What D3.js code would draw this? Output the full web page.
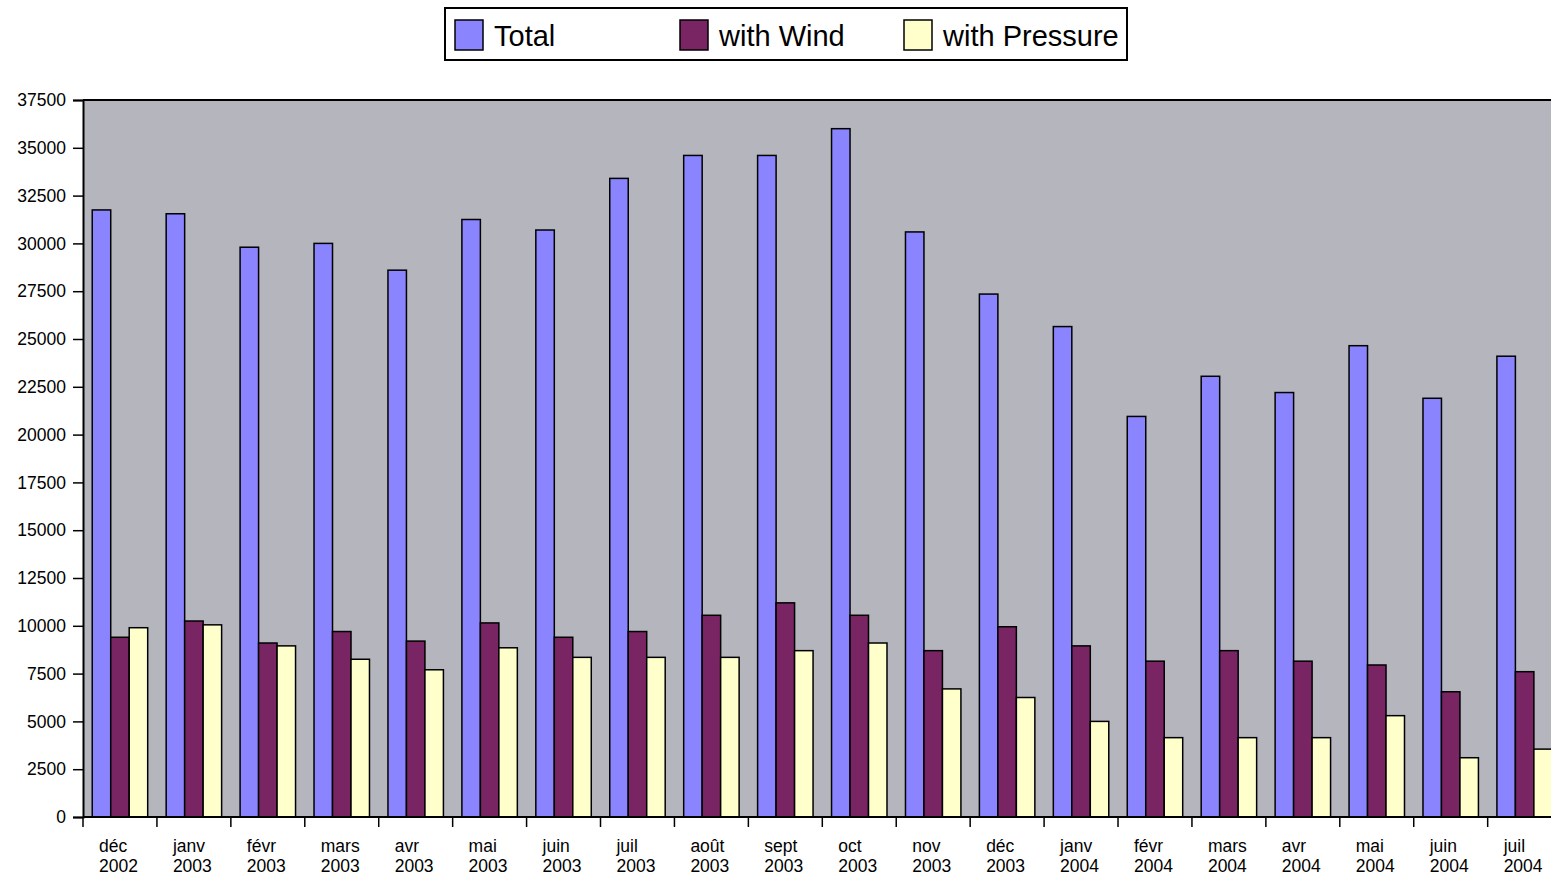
<!DOCTYPE html>
<html>
<head>
<meta charset="utf-8">
<script src="https://cdn.jsdelivr.net/npm/d3@7"></script>
<style>
  body { margin: 0; background: #fff; overflow: hidden; }
  text { font-family: "Liberation Sans", Arial, sans-serif; fill: #000; }
</style>
</head>
<body>
<div id="chart"></div>
<script>
// month labels (two lines each)
const months = ['déc', 'janv', 'févr', 'mars', 'avr', 'mai', 'juin', 'juil', 'août', 'sept',
  'oct', 'nov', 'déc', 'janv', 'févr', 'mars', 'avr', 'mai', 'juin', 'juil'];
const years = ['2002', '2003', '2003', '2003', '2003', '2003', '2003', '2003', '2003', '2003',
  '2003', '2003', '2003', '2004', '2004', '2004', '2004', '2004', '2004', '2004'];

// series values
const total = [31750, 31550, 29800, 30000, 28600, 31250, 30700, 33400, 34600, 34600,
  36000, 30600, 27350, 25650, 20950, 23050, 22200, 24650, 21900, 24100];
const wind = [9400, 10250, 9100, 9700, 9200, 10150, 9400, 9700, 10550, 11200,
  10550, 8700, 9950, 8950, 8150, 8700, 8150, 7950, 6550, 7600];
const pressure = [9900, 10050, 8950, 8250, 7700, 8850, 8350, 8350, 8350, 8700,
  9100, 6700, 6250, 5000, 4150, 4150, 4150, 5300, 3100, 3550];

const seriesNames = ['Total', 'with Wind', 'with Pressure'];
const seriesColors = ['#8b84ff', '#7a2563', '#ffffcc'];
const yTicks = [0, 2500, 5000, 7500, 10000, 12500, 15000, 17500, 20000, 22500,
  25000, 27500, 30000, 32500, 35000, 37500];

const width = 1551, height = 877;
const plotLeft = 83, plotTop = 100, plotBottom = 817;
const step = 73.93;
const plotRight = plotLeft + step * months.length; // plot runs past the window edge

const svg = d3.select('#chart')
  .append('svg')
  .attr('width', width)
  .attr('height', height);

const x0 = d3.scaleBand()
  .domain(d3.range(months.length))
  .range([plotLeft, plotRight])
  .paddingInner(0.25)
  .paddingOuter(0.125);

const x1 = d3.scaleBand()
  .domain(d3.range(seriesNames.length))
  .range([0, x0.bandwidth()]);

const y = d3.scaleLinear()
  .domain([0, 37500])
  .range([plotBottom, plotTop]);

// plot background
svg.append('rect')
  .attr('x', plotLeft).attr('y', plotTop)
  .attr('width', plotRight - plotLeft).attr('height', plotBottom - plotTop)
  .attr('fill', '#b5b5be');

svg.append('line')
  .attr('x1', plotLeft).attr('x2', plotRight)
  .attr('y1', plotTop).attr('y2', plotTop)
  .attr('stroke', '#000').attr('stroke-width', 2);

// bars
const rows = months.map((m, i) => [total[i], wind[i], pressure[i]]);

const group = svg.selectAll('.group')
  .data(rows)
  .enter().append('g')
  .attr('class', 'group')
  .attr('transform', (d, i) => `translate(${x0(i)},0)`);

group.selectAll('rect')
  .data(d => d.map((v, k) => ({ v, k })))
  .enter().append('rect')
  .attr('x', d => x1(d.k))
  .attr('y', d => y(d.v))
  .attr('width', x1.bandwidth())
  .attr('height', d => plotBottom - y(d.v))
  .attr('fill', d => seriesColors[d.k])
  .attr('stroke', '#000')
  .attr('stroke-width', 1.5);

// y axis
const yAxis = svg.append('g')
  .attr('transform', `translate(${plotLeft},0)`)
  .call(d3.axisLeft(y).tickValues(yTicks).tickSize(10).tickPadding(7).tickFormat(d => d));

yAxis.select('.domain').attr('stroke-width', 2);
yAxis.selectAll('.tick line').attr('stroke-width', 1.5);
yAxis.selectAll('text')
  .style('font-size', '17.5px')
  .style('font-family', '"Liberation Sans", Arial, sans-serif')
  .attr('fill', '#111');

// x axis
svg.append('line')
  .attr('x1', plotLeft).attr('x2', plotRight)
  .attr('y1', plotBottom).attr('y2', plotBottom)
  .attr('stroke', '#000').attr('stroke-width', 2);

svg.selectAll('.xtick')
  .data(months)
  .enter().append('line')
  .attr('class', 'xtick')
  .attr('x1', (d, i) => x0(i) - x0.step() * 0.125)
  .attr('x2', (d, i) => x0(i) - x0.step() * 0.125)
  .attr('y1', plotBottom).attr('y2', plotBottom + 10)
  .attr('stroke', '#000').attr('stroke-width', 1.5);

const xLabel = svg.selectAll('.xlabel')
  .data(months)
  .enter().append('text')
  .attr('class', 'xlabel')
  .attr('x', (d, i) => x0(i) + x0.bandwidth() / 2 - 21)
  .style('font-size', '17.5px')
  .attr('fill', '#111');

xLabel.append('tspan').attr('y', 852).text(d => d);
xLabel.append('tspan')
  .attr('x', (d, i) => x0(i) + x0.bandwidth() / 2 - 21)
  .attr('y', 872)
  .text((d, i) => years[i]);

// legend
const legend = svg.append('g');
legend.append('rect')
  .attr('x', 445).attr('y', 8)
  .attr('width', 682).attr('height', 52)
  .attr('fill', '#fff').attr('stroke', '#000').attr('stroke-width', 2);

const legendX = [455, 680, 904];
const item = legend.selectAll('.item')
  .data(seriesNames)
  .enter().append('g')
  .attr('class', 'item')
  .attr('transform', (d, i) => `translate(${legendX[i]},20)`);

item.append('rect')
  .attr('width', 28).attr('height', 30)
  .attr('fill', (d, i) => seriesColors[i])
  .attr('stroke', '#000').attr('stroke-width', 1.5);

item.append('text')
  .attr('x', 39).attr('y', 26)
  .style('font-size', '29px')
  .attr('fill', '#111')
  .text(d => d);
</script>
</body>
</html>
